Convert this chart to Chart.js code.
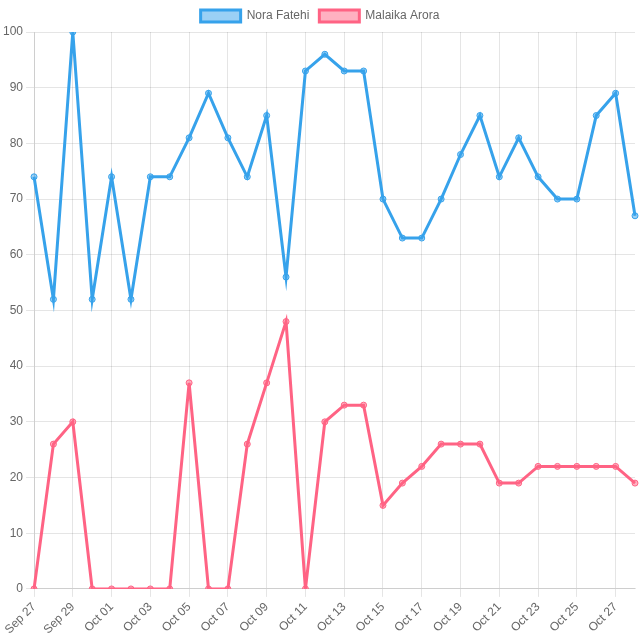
<!DOCTYPE html>
<html>
<head>
<meta charset="utf-8">
<script src="https://cdn.jsdelivr.net/npm/chart.js@4"></script>
<style>
html,body{margin:0;padding:0;background:#fff;}
#wrap{width:640px;height:640px;}
</style>
</head>
<body>
<div id="wrap"><canvas id="c"></canvas></div>
<script>
const labels = ["Sep 27","Sep 28","Sep 29","Sep 30","Oct 01","Oct 02","Oct 03","Oct 04","Oct 05","Oct 06","Oct 07","Oct 08","Oct 09","Oct 10","Oct 11","Oct 12","Oct 13","Oct 14","Oct 15","Oct 16","Oct 17","Oct 18","Oct 19","Oct 20","Oct 21","Oct 22","Oct 23","Oct 24","Oct 25","Oct 26","Oct 27","Oct 28"];
const noraFatehi = [74,52,100,52,74,52,74,74,81,89,81,74,85,56,93,96,93,93,70,63,63,70,78,85,74,81,74,70,70,85,89,67];
const malaikaArora = [0,26,30,0,0,0,0,0,37,0,0,26,37,48,0,30,33,33,15,19,22,26,26,26,19,19,22,22,22,22,22,19];

Chart.defaults.font.family = "'Liberation Sans', Arial, sans-serif";
Chart.defaults.color = '#666';

new Chart(document.getElementById('c'), {
  type: 'line',
  data: {
    labels: labels,
    datasets: [
      {
        label: 'Nora Fatehi',
        data: noraFatehi,
        borderColor: 'rgb(54,162,235)',
        backgroundColor: 'rgba(54,162,235,0.5)',
        borderWidth: 3,
        pointRadius: 3,
        pointBorderWidth: 1,
        pointBackgroundColor: 'rgba(54,162,235,0.5)',
        pointBorderColor: 'rgb(54,162,235)',
        tension: 0
      },
      {
        label: 'Malaika Arora',
        data: malaikaArora,
        borderColor: 'rgb(255,99,132)',
        backgroundColor: 'rgba(255,99,132,0.5)',
        borderWidth: 3,
        pointRadius: 3,
        pointBorderWidth: 1,
        pointBackgroundColor: 'rgba(255,99,132,0.5)',
        pointBorderColor: 'rgb(255,99,132)',
        tension: 0
      }
    ]
  },
  options: {
    responsive: true,
    maintainAspectRatio: false,
    animation: false,
    plugins: {
      legend: { position: 'top' }
    },
    scales: {
      x: {
        ticks: { maxRotation: 45, minRotation: 45, autoSkip: true }
      },
      y: {
        min: 0,
        max: 100,
        ticks: { stepSize: 10 }
      }
    }
  }
});
</script>
</body>
</html>
